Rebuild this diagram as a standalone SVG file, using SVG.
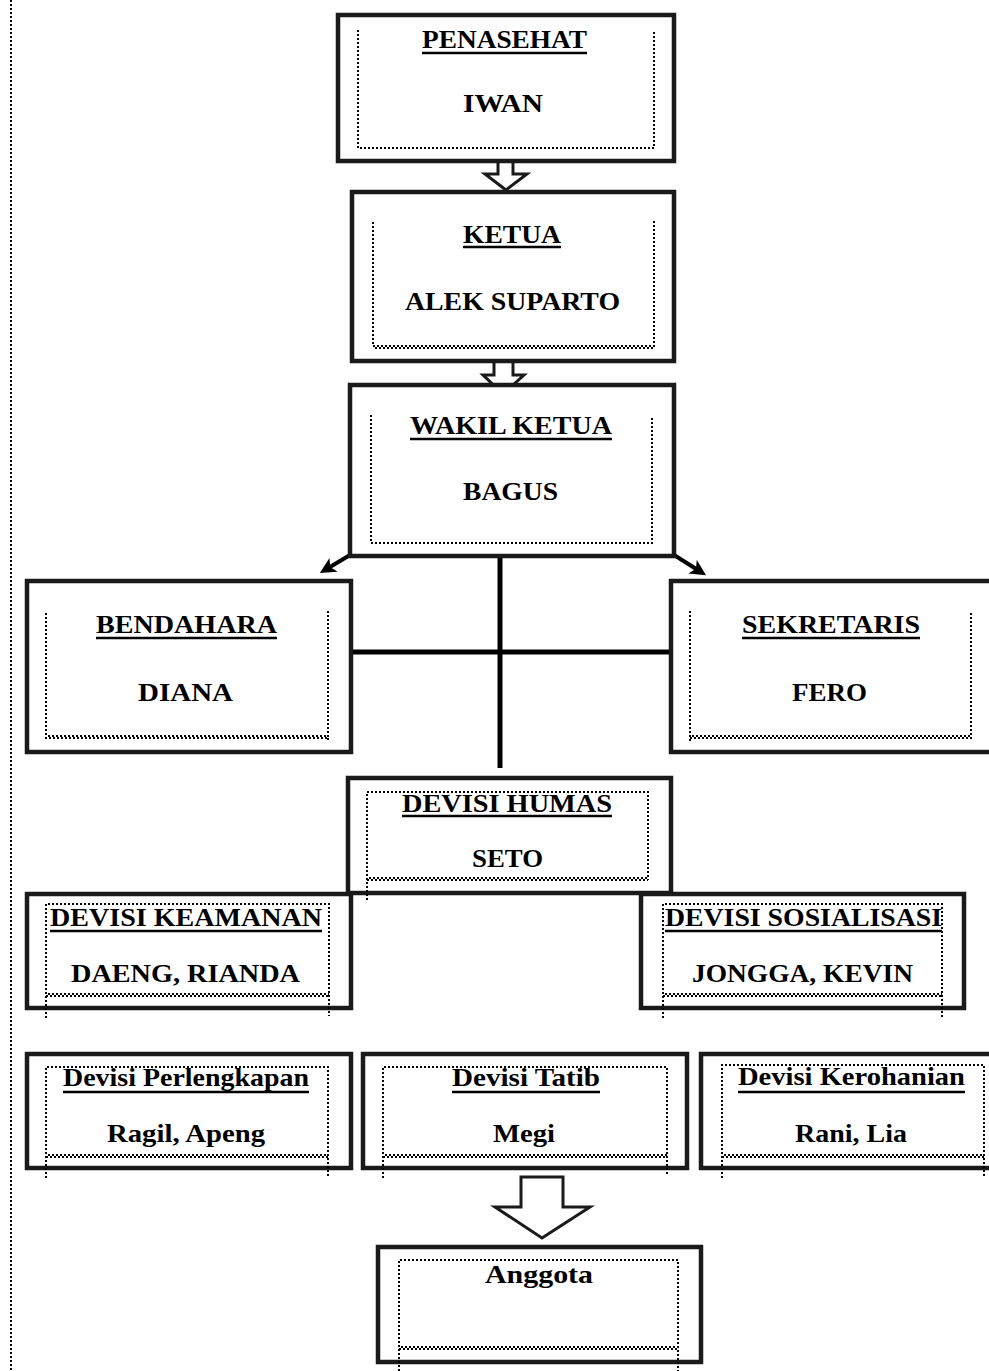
<svg xmlns="http://www.w3.org/2000/svg" width="989" height="1371" viewBox="0 0 989 1371">
<style>
.box{fill:#fff;stroke:#1a1a1a;stroke-width:4.5}
.dot{fill:none;stroke:#000;stroke-width:2;stroke-dasharray:2 2}
.dot2{fill:none;stroke:#000;stroke-width:2;stroke-dasharray:2 2;stroke-dashoffset:2}
.t{font-family:"Liberation Serif","Times New Roman",serif;font-weight:bold;font-size:26px;fill:#000;text-anchor:middle}
.ul{stroke:#000;stroke-width:2.5}
.conn{stroke:#000;stroke-width:5;fill:none}
.barrow{fill:#fff;stroke:#1a1a1a;stroke-width:3;stroke-linejoin:miter}
</style>
<defs>
<marker id="ah" markerWidth="4" markerHeight="4" refX="2.5" refY="2" orient="auto" markerUnits="strokeWidth">
<path d="M0,0 L4,2 L0,4 L1,2 Z" fill="#000"/>
</marker>
</defs>
<rect width="989" height="1371" fill="#fff"/>
<line x1="11" y1="0" x2="11" y2="1371" class="dot"/>

<g id="connectors">
<line class="conn" x1="500" y1="557" x2="500" y2="768"/>
<line class="conn" x1="351" y1="652" x2="671" y2="652"/>
<line x1="350" y1="555" x2="325" y2="570" stroke="#000" stroke-width="4" marker-end="url(#ah)"/>
<line x1="674" y1="555" x2="701" y2="572" stroke="#000" stroke-width="4" marker-end="url(#ah)"/>
<path class="barrow" d="M498,160 L513,160 L513,174 L527,174 L506,190 L485,174 L498,174 Z"/>
<path class="barrow" d="M494,361 L513,361 L513,375 L524,375 L503,394 L483,375 L494,375 Z"/>
<path class="barrow" d="M521,1177 L563,1177 L563,1207 L590,1207 L542,1238 L495,1207 L521,1207 Z"/>
</g>

<g id="penasehat">
<rect class="box" x="338" y="15" width="336" height="146"/>
<path class="dot" d="M358,30 V148 H654 V30"/>
<text class="t" x="504.5" y="48" textLength="165" lengthAdjust="spacingAndGlyphs">PENASEHAT</text>
<line class="ul" x1="422" y1="53" x2="587" y2="53"/>
<text class="t" x="503" y="112" textLength="80" lengthAdjust="spacingAndGlyphs">IWAN</text>
</g>

<g id="ketua">
<rect class="box" x="352" y="192" width="322" height="169"/>
<path class="dot" d="M373,222 V346 H654 V219"/>
<path class="dot2" d="M373,348 H654"/>
<text class="t" x="512" y="243" textLength="98" lengthAdjust="spacingAndGlyphs">KETUA</text>
<line class="ul" x1="463" y1="247" x2="561" y2="247"/>
<text class="t" x="512.5" y="310" textLength="215" lengthAdjust="spacingAndGlyphs">ALEK SUPARTO</text>
</g>

<g id="wakil">
<rect class="box" x="350" y="385" width="324" height="171"/>
<path class="dot" d="M371,415 V543 H652 V418"/>
<text class="t" x="511" y="434" textLength="202" lengthAdjust="spacingAndGlyphs">WAKIL KETUA</text>
<line class="ul" x1="410" y1="439" x2="612" y2="439"/>
<text class="t" x="510.5" y="500" textLength="95" lengthAdjust="spacingAndGlyphs">BAGUS</text>
</g>

<g id="bendahara">
<rect class="box" x="27" y="581" width="324" height="171"/>
<path class="dot" d="M46,613 V738 H328 V610"/>
<path class="dot2" d="M46,736 H328"/>
<line class="dot" x1="328" y1="738" x2="328" y2="742"/>
<text class="t" x="186.5" y="633" textLength="181" lengthAdjust="spacingAndGlyphs">BENDAHARA</text>
<line class="ul" x1="96" y1="638" x2="277" y2="638"/>
<text class="t" x="185.5" y="701" textLength="95" lengthAdjust="spacingAndGlyphs">DIANA</text>
</g>

<g id="sekretaris">
<rect class="box" x="671" y="581" width="340" height="171"/>
<path class="dot" d="M690,611 V742"/>
<path class="dot" d="M690,738 H971 V613"/>
<path class="dot2" d="M690,736 H971"/>
<text class="t" x="831" y="633" textLength="178" lengthAdjust="spacingAndGlyphs">SEKRETARIS</text>
<line class="ul" x1="742" y1="638" x2="920" y2="638"/>
<text class="t" x="829.5" y="701" textLength="75" lengthAdjust="spacingAndGlyphs">FERO</text>
</g>

<g id="humas">
<rect class="box" x="348" y="778" width="323" height="115"/>
<path class="dot" d="M367,900 V792 H648 V880"/>
<path class="dot" d="M367,880 H648"/>
<path class="dot2" d="M367,878 H648"/>
<text class="t" x="507" y="812" textLength="210" lengthAdjust="spacingAndGlyphs">DEVISI HUMAS</text>
<line class="ul" x1="402" y1="816" x2="612" y2="816"/>
<text class="t" x="507.5" y="867" textLength="71" lengthAdjust="spacingAndGlyphs">SETO</text>
</g>

<g id="keamanan">
<rect class="box" x="27" y="894" width="324" height="114"/>
<path class="dot" d="M46,1018 V904 H329 V1016"/>
<path class="dot" d="M46,996 H329"/>
<path class="dot2" d="M46,994 H329"/>
<text class="t" x="186" y="926" textLength="272" lengthAdjust="spacingAndGlyphs">DEVISI KEAMANAN</text>
<line class="ul" x1="50" y1="931" x2="322" y2="931"/>
<text class="t" x="185.5" y="982" textLength="229" lengthAdjust="spacingAndGlyphs">DAENG, RIANDA</text>
</g>

<g id="sosialisasi">
<rect class="box" x="641" y="894" width="323" height="114"/>
<path class="dot" d="M663,1018 V904 H942 V1018"/>
<path class="dot" d="M663,996 H942"/>
<path class="dot2" d="M663,994 H942"/>
<text class="t" x="803.5" y="926" textLength="277" lengthAdjust="spacingAndGlyphs">DEVISI SOSIALISASI</text>
<line class="ul" x1="665" y1="931" x2="942" y2="931"/>
<text class="t" x="802.5" y="982" textLength="221" lengthAdjust="spacingAndGlyphs">JONGGA, KEVIN</text>
</g>

<g id="perlengkapan">
<rect class="box" x="27" y="1054" width="324" height="114"/>
<path class="dot" d="M46,1178 V1067 H328 V1176"/>
<path class="dot" d="M46,1157 H328"/>
<path class="dot2" d="M46,1155 H328"/>
<text class="t" x="186" y="1086" textLength="246" lengthAdjust="spacingAndGlyphs">Devisi Perlengkapan</text>
<line class="ul" x1="63" y1="1092" x2="309" y2="1092"/>
<text class="t" x="186" y="1142" textLength="158" lengthAdjust="spacingAndGlyphs">Ragil, Apeng</text>
</g>

<g id="tatib">
<rect class="box" x="363" y="1054" width="324" height="114"/>
<path class="dot" d="M383,1178 V1067 H667 V1176"/>
<path class="dot" d="M383,1157 H667"/>
<path class="dot2" d="M383,1155 H667"/>
<text class="t" x="526" y="1086" textLength="148" lengthAdjust="spacingAndGlyphs">Devisi Tatib</text>
<line class="ul" x1="452" y1="1092" x2="600" y2="1092"/>
<text class="t" x="524" y="1142" textLength="62" lengthAdjust="spacingAndGlyphs">Megi</text>
</g>

<g id="kerohanian">
<rect class="box" x="701" y="1054" width="320" height="114"/>
<path class="dot" d="M722,1178 V1065 H984 V1178"/>
<path class="dot" d="M722,1157 H984"/>
<path class="dot2" d="M722,1155 H984"/>
<text class="t" x="851.5" y="1085" textLength="227" lengthAdjust="spacingAndGlyphs">Devisi Kerohanian</text>
<line class="ul" x1="738" y1="1092" x2="965" y2="1092"/>
<text class="t" x="851" y="1142" textLength="112" lengthAdjust="spacingAndGlyphs">Rani, Lia</text>
</g>

<g id="anggota">
<rect class="box" x="378" y="1247" width="323" height="115"/>
<path class="dot" d="M399,1371 V1260 H678 V1371"/>
<path class="dot" d="M399,1349 H678"/>
<path class="dot2" d="M399,1347 H678"/>
<text class="t" x="539" y="1283" textLength="108" lengthAdjust="spacingAndGlyphs">Anggota</text>
</g>
</svg>
